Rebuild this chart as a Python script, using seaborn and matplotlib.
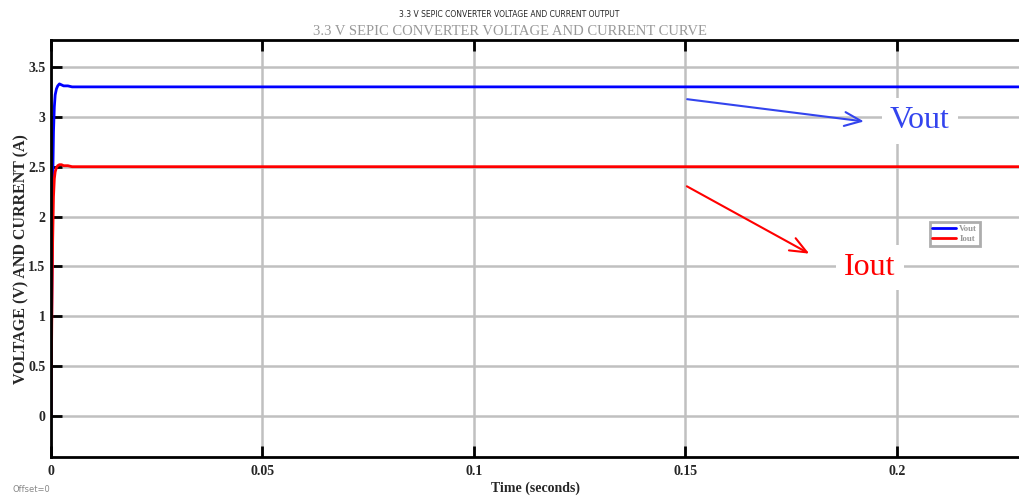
import matplotlib
matplotlib.use("Agg")
import matplotlib.pyplot as plt
import seaborn as sns
import pandas as pd

# --- data ---
time_s = [0.0, 0.0002, 0.0004, 0.0006, 0.0008, 0.0010, 0.0013, 0.0016, 0.0020,
          0.0025, 0.0030, 0.0040, 0.0050, 0.0070, 0.0100, 0.0500, 0.1000, 0.1500, 0.2000, 0.2300]
vout = [0.0, 1.20, 2.30, 2.85, 3.10, 3.22, 3.28, 3.31, 3.33,
        3.32, 3.31, 3.31, 3.30, 3.30, 3.30, 3.30, 3.30, 3.30, 3.30, 3.30]
iout = [0.0, 0.95, 1.75, 2.20, 2.38, 2.45, 2.49, 2.51, 2.52,
        2.52, 2.51, 2.51, 2.50, 2.50, 2.50, 2.50, 2.50, 2.50, 2.50, 2.50]
series_names = ["Vout", "Iout"]
series_colors = ["#0000ff", "#ff0000"]

df = pd.concat([
    pd.DataFrame({"t": time_s, "value": vout, "signal": "Vout"}),
    pd.DataFrame({"t": time_s, "value": iout, "signal": "Iout"}),
])

sns.set_style("white")
plt.rcParams["font.family"] = ["Liberation Serif", "DejaVu Serif"]

fig = plt.figure(figsize=(10.19, 4.98), dpi=100)
ax = fig.add_axes([0.050, 0.0823, 0.952, 0.8374])

sns.lineplot(data=df, x="t", y="value", hue="signal", hue_order=series_names,
             palette=series_colors, linewidth=2, ax=ax, legend=True)

ax.set_xlim(0, 0.2294)
ax.set_ylim(-0.41, 3.77)
ax.set_xticks([0, 0.05, 0.1, 0.15, 0.2])
ax.set_xticklabels(["0", "0.05", "0.1", "0.15", "0.2"])
ax.set_yticks([0, 0.5, 1, 1.5, 2, 2.5, 3, 3.5])
ax.set_yticklabels(["0", "0.5", "1", "1.5", "2", "2.5", "3", "3.5"])
ax.grid(True, color="#c0c0c0", linewidth=1.8)
ax.set_axisbelow(True)
ax.tick_params(direction="in", length=8, width=2, color="black",
               top=True, right=False, left=True, bottom=True, labelsize=10)
ax.tick_params(axis="y", pad=4)
ax.tick_params(axis="x", pad=6)
for lbl in ax.get_xticklabels() + ax.get_yticklabels():
    lbl.set_fontweight("bold")
for s in ["left", "bottom", "top"]:
    ax.spines[s].set_color("black")
    ax.spines[s].set_linewidth(2)
ax.spines["right"].set_visible(False)

ax.set_xlabel("Time (seconds)", fontsize=10, fontweight="bold", labelpad=2)
ax.set_ylabel("VOLTAGE (V) AND CURRENT (A)", fontsize=11.5, fontweight="bold")
ax.yaxis.set_label_coords(-0.022, 0.475)

leg = ax.legend(loc="upper left", bbox_to_anchor=(0.901, 0.574), fontsize=6.5,
                frameon=True, fancybox=False, handlelength=2.6, borderpad=0.3,
                labelspacing=0.2, handletextpad=0.4)
leg.get_frame().set_edgecolor("#999999")
leg.get_frame().set_linewidth(2)
for txt in leg.get_texts():
    txt.set_color("#999999")
    txt.set_fontweight("bold")

# annotations
ax.annotate("", xy=(0.1929, 2.95), xytext=(0.1498, 3.18),
            arrowprops=dict(arrowstyle="->,head_length=1.2,head_width=0.5",
                            color="#3344ee", lw=1.5))
ax.annotate("", xy=(0.1799, 1.615), xytext=(0.1498, 2.317),
            arrowprops=dict(arrowstyle="->,head_length=1.2,head_width=0.5",
                            color="#ff0000", lw=1.5))
ax.text(0.2055, 2.96, "Vout", color="#3344ee", fontsize=23, ha="center", va="center",
        bbox=dict(facecolor="white", edgecolor="none", pad=6))
ax.text(0.1936, 1.49, "Iout", color="#ff0000", fontsize=23, ha="center", va="center",
        bbox=dict(facecolor="white", edgecolor="none", pad=6))

fig.text(0.5, 0.970, "3.3 V SEPIC CONVERTER VOLTAGE AND CURRENT OUTPUT",
         ha="center", va="center", fontsize=5.5, family="DejaVu Sans")
fig.text(0.5, 0.937, "3.3 V SEPIC CONVERTER VOLTAGE AND CURRENT CURVE",
         ha="center", va="center", fontsize=10.5, color="#999999")
fig.text(0.012, 0.018, "Offset=0", ha="left", va="center", fontsize=6,
         color="#888888", family="DejaVu Sans")

fig.savefig("out.png", dpi=100)
